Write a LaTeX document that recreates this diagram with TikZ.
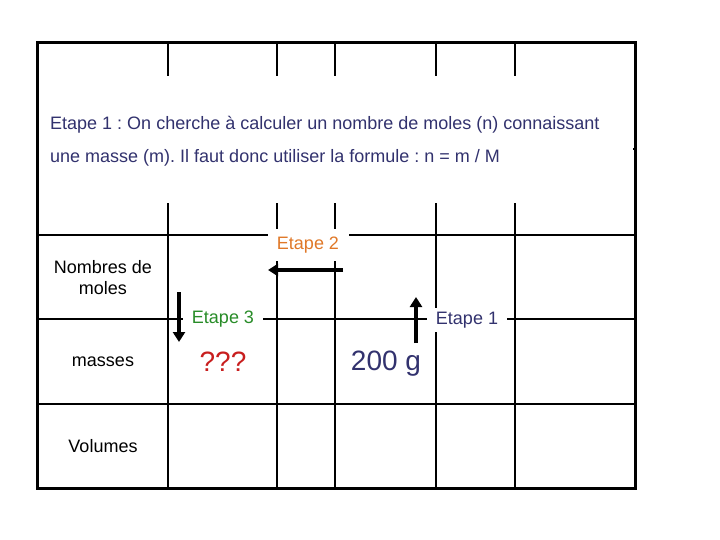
\documentclass[tikz,border=0pt]{standalone}
\usepackage{fontspec}
\setmainfont{Liberation Sans}
\frenchspacing
\usetikzlibrary{positioning, arrows.meta}
\definecolor{navy}{RGB}{50,50,110}
\definecolor{etapeorange}{RGB}{224,120,40}
\definecolor{etapegreen}{RGB}{40,140,40}
\definecolor{inconnuered}{RGB}{200,30,30}
\tikzset{
	cell/.style={inner sep=0pt, align=center, font=\fontsize{18}{21}\selectfont},
	% white boxes that cut the grid lines
	etapebox/.style={fill=white, inner sep=0pt, minimum width=80pt, minimum height=24pt, font=\fontsize{18}{21}\selectfont},
	bigval/.style={inner sep=0pt, font=\fontsize{28}{32}\selectfont},
	grid/.style={line width=2pt, black},
}

\begin{document}
\begin{tikzpicture}[x=1pt, y=-1pt]
				\useasboundingbox (0,0) rectangle (720,540);
				
				% table
				\draw[grid] foreach \x in {168,277,335,436,515} {(\x,43) -- (\x,488)};
				\draw[grid] foreach \y in {149,235,319,404} {(37,\y) -- (635,\y)};
				\draw[line width=3pt] (37,43) rectangle (635,488);
				
				\node (consigne) [fill=white, inner sep=0pt, minimum width=594pt, minimum height=127pt, anchor=north west] at (39,76) {};
				\node (ligne1) [cell, text=navy, anchor=west] at (50,125) {Etape 1 : On cherche à calculer un nombre de moles (n) connaissant};
				\node (ligne2) [cell, text=navy, anchor=west] at (50,158) {une masse (m). Il faut donc utiliser la formule : n = m / M};
				
				\node (moles) [cell] at (103,277.5) {Nombres de\\moles};
				\node (masses) [cell] at (103,362) {masses};
				\node (volumes) [cell] at (103,446) {Volumes};
				
				\node (etape2) [etapebox, minimum width=81pt, minimum height=31pt, text=etapeorange] at (308,245) {Etape 2};
				\node (etape3) [etapebox, text=etapegreen] at (223,319) {Etape 3};
				\node (etape1) [etapebox, text=navy] at (467,320) {Etape 1};
				
				\node (inconnue) [bigval, text=inconnuered] at (223,362) {???};
				\node (masse) [bigval, text=navy] at (386,364) {200 g};
				
				\coordinate (e2from) at (343,270);
				\coordinate (e2to) at (268,270);
				\coordinate (e3from) at (179,292);
				\coordinate (e3to) at (179,342);
				\coordinate (e1from) at (416,343);
				\coordinate (e1to) at (416,297);
				
				\begin{scope}[line width=4.5pt, black, -{Triangle[length=10pt, width=12pt]}]
					\draw (e2from) -- (e2to);
					\draw (e3from) -- (e3to);
					\draw (e1from) -- (e1to);
				\end{scope}
				
			\end{tikzpicture}
\end{document}
